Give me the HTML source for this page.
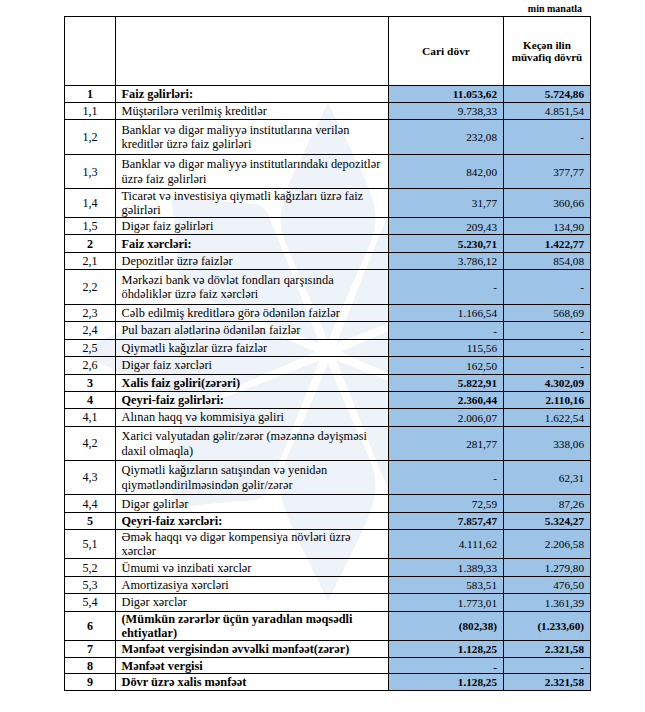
<!DOCTYPE html>
<html><head><meta charset="utf-8"><title>t</title>
<style>
html,body{margin:0;padding:0;background:#fff;}
body{width:645px;height:712px;position:relative;overflow:hidden;font-family:"Liberation Serif",serif;color:#000;}
.a{position:absolute;}
.h{position:absolute;left:64px;width:527px;height:1px;background:#000;}
.v{position:absolute;top:16px;width:1px;height:675px;background:#000;}
.bl{position:absolute;background:#9dc3e6;}
.c{position:absolute;display:flex;align-items:center;box-sizing:border-box;white-space:nowrap;}
.n{justify-content:center;font-size:12.1px;}
.t{justify-content:flex-start;font-size:12.35px;line-height:14.5px;padding-left:5.5px;}
.m{justify-content:flex-end;font-size:11.2px;padding-right:6px;}
.b{font-weight:bold;}
.hd{justify-content:center;text-align:center;font-weight:bold;font-size:11.4px;line-height:12.4px;}
</style></head><body>
<svg class="a" style="left:0;top:0" width="645" height="712" viewBox="0 0 645 712"><g transform="translate(328 352) scale(1 0.995)" fill="#eef2f9"><path d="M0.0,-0.0 2.3,-6.2 4.6,-12.5 6.9,-18.8 9.3,-25.0 11.6,-31.2 14.0,-37.5 16.5,-43.8 18.9,-50.0 21.4,-56.2 23.9,-62.5 26.5,-68.8 29.0,-75.0 31.5,-81.2 34.0,-87.5 36.6,-93.8 39.0,-100.0 41.5,-106.2 43.7,-112.5 45.5,-118.8 46.8,-125.0 47.5,-131.2 47.3,-137.5 46.7,-143.8 45.5,-150.0 43.6,-156.2 41.5,-162.5 39.0,-168.8 36.4,-175.0 33.5,-181.2 30.6,-187.5 27.5,-193.8 24.5,-200.0 21.5,-206.2 18.4,-212.5 15.4,-218.8 12.3,-225.0 9.2,-231.2 6.1,-237.5 3.1,-243.8 -0.0,-250.0 -3.1,-243.8 -6.1,-237.5 -9.2,-231.2 -12.3,-225.0 -15.4,-218.8 -18.4,-212.5 -21.5,-206.2 -24.5,-200.0 -27.5,-193.8 -30.6,-187.5 -33.5,-181.2 -36.4,-175.0 -39.0,-168.8 -41.5,-162.5 -43.6,-156.2 -45.5,-150.0 -46.7,-143.8 -47.3,-137.5 -47.5,-131.2 -46.8,-125.0 -45.5,-118.8 -43.7,-112.5 -41.5,-106.2 -39.0,-100.0 -36.6,-93.8 -34.0,-87.5 -31.5,-81.2 -29.0,-75.0 -26.5,-68.8 -23.9,-62.5 -21.4,-56.2 -18.9,-50.0 -16.5,-43.8 -14.0,-37.5 -11.6,-31.2 -9.3,-25.0 -6.9,-18.8 -4.6,-12.5 -2.3,-6.2Z" transform="rotate(0)"/><path d="M0.0,-0.0 2.2,-5.5 4.3,-11.1 6.5,-16.6 8.6,-22.2 10.8,-27.8 12.9,-33.3 15.1,-38.9 17.2,-44.4 19.4,-49.9 21.5,-55.5 23.7,-61.0 25.8,-66.6 28.0,-72.1 30.1,-77.7 32.3,-83.2 34.4,-88.8 36.5,-94.3 38.7,-99.9 40.9,-105.5 43.1,-111.0 45.4,-116.5 47.8,-122.1 50.1,-127.6 52.3,-133.2 54.7,-138.8 56.5,-144.3 56.2,-149.8 54.5,-155.4 50.3,-160.9 45.6,-166.5 40.6,-172.0 35.8,-177.6 31.2,-183.2 26.7,-188.7 22.2,-194.2 17.7,-199.8 13.2,-205.3 8.8,-210.9 4.4,-216.4 -0.0,-222.0 -4.4,-216.4 -8.8,-210.9 -13.2,-205.3 -17.7,-199.8 -22.2,-194.2 -26.7,-188.7 -31.2,-183.2 -35.8,-177.6 -40.6,-172.0 -45.6,-166.5 -50.3,-160.9 -54.5,-155.4 -56.2,-149.8 -56.5,-144.3 -54.7,-138.8 -52.3,-133.2 -50.1,-127.6 -47.8,-122.1 -45.4,-116.5 -43.1,-111.0 -40.9,-105.5 -38.7,-99.9 -36.5,-94.3 -34.4,-88.8 -32.3,-83.2 -30.1,-77.7 -28.0,-72.1 -25.8,-66.6 -23.7,-61.0 -21.5,-55.5 -19.4,-49.9 -17.2,-44.4 -15.1,-38.9 -12.9,-33.3 -10.8,-27.8 -8.6,-22.2 -6.5,-16.6 -4.3,-11.1 -2.2,-5.5Z" transform="rotate(45)"/><path d="M0.0,-0.0 2.3,-6.2 4.6,-12.5 6.9,-18.8 9.3,-25.0 11.6,-31.2 14.0,-37.5 16.5,-43.8 18.9,-50.0 21.4,-56.2 23.9,-62.5 26.5,-68.8 29.0,-75.0 31.5,-81.2 34.0,-87.5 36.6,-93.8 39.0,-100.0 41.5,-106.2 43.7,-112.5 45.5,-118.8 46.8,-125.0 47.5,-131.2 47.3,-137.5 46.7,-143.8 45.5,-150.0 43.6,-156.2 41.5,-162.5 39.0,-168.8 36.4,-175.0 33.5,-181.2 30.6,-187.5 27.5,-193.8 24.5,-200.0 21.5,-206.2 18.4,-212.5 15.4,-218.8 12.3,-225.0 9.2,-231.2 6.1,-237.5 3.1,-243.8 -0.0,-250.0 -3.1,-243.8 -6.1,-237.5 -9.2,-231.2 -12.3,-225.0 -15.4,-218.8 -18.4,-212.5 -21.5,-206.2 -24.5,-200.0 -27.5,-193.8 -30.6,-187.5 -33.5,-181.2 -36.4,-175.0 -39.0,-168.8 -41.5,-162.5 -43.6,-156.2 -45.5,-150.0 -46.7,-143.8 -47.3,-137.5 -47.5,-131.2 -46.8,-125.0 -45.5,-118.8 -43.7,-112.5 -41.5,-106.2 -39.0,-100.0 -36.6,-93.8 -34.0,-87.5 -31.5,-81.2 -29.0,-75.0 -26.5,-68.8 -23.9,-62.5 -21.4,-56.2 -18.9,-50.0 -16.5,-43.8 -14.0,-37.5 -11.6,-31.2 -9.3,-25.0 -6.9,-18.8 -4.6,-12.5 -2.3,-6.2Z" transform="rotate(90)"/><path d="M0.0,-0.0 2.2,-5.5 4.3,-11.1 6.5,-16.6 8.6,-22.2 10.8,-27.8 12.9,-33.3 15.1,-38.9 17.2,-44.4 19.4,-49.9 21.5,-55.5 23.7,-61.0 25.8,-66.6 28.0,-72.1 30.1,-77.7 32.3,-83.2 34.4,-88.8 36.5,-94.3 38.7,-99.9 40.9,-105.5 43.1,-111.0 45.4,-116.5 47.8,-122.1 50.1,-127.6 52.3,-133.2 54.7,-138.8 56.5,-144.3 56.2,-149.8 54.5,-155.4 50.3,-160.9 45.6,-166.5 40.6,-172.0 35.8,-177.6 31.2,-183.2 26.7,-188.7 22.2,-194.2 17.7,-199.8 13.2,-205.3 8.8,-210.9 4.4,-216.4 -0.0,-222.0 -4.4,-216.4 -8.8,-210.9 -13.2,-205.3 -17.7,-199.8 -22.2,-194.2 -26.7,-188.7 -31.2,-183.2 -35.8,-177.6 -40.6,-172.0 -45.6,-166.5 -50.3,-160.9 -54.5,-155.4 -56.2,-149.8 -56.5,-144.3 -54.7,-138.8 -52.3,-133.2 -50.1,-127.6 -47.8,-122.1 -45.4,-116.5 -43.1,-111.0 -40.9,-105.5 -38.7,-99.9 -36.5,-94.3 -34.4,-88.8 -32.3,-83.2 -30.1,-77.7 -28.0,-72.1 -25.8,-66.6 -23.7,-61.0 -21.5,-55.5 -19.4,-49.9 -17.2,-44.4 -15.1,-38.9 -12.9,-33.3 -10.8,-27.8 -8.6,-22.2 -6.5,-16.6 -4.3,-11.1 -2.2,-5.5Z" transform="rotate(135)"/><path d="M0.0,-0.0 2.3,-6.2 4.6,-12.5 6.9,-18.8 9.3,-25.0 11.6,-31.2 14.0,-37.5 16.5,-43.8 18.9,-50.0 21.4,-56.2 23.9,-62.5 26.5,-68.8 29.0,-75.0 31.5,-81.2 34.0,-87.5 36.6,-93.8 39.0,-100.0 41.5,-106.2 43.7,-112.5 45.5,-118.8 46.8,-125.0 47.5,-131.2 47.3,-137.5 46.7,-143.8 45.5,-150.0 43.6,-156.2 41.5,-162.5 39.0,-168.8 36.4,-175.0 33.5,-181.2 30.6,-187.5 27.5,-193.8 24.5,-200.0 21.5,-206.2 18.4,-212.5 15.4,-218.8 12.3,-225.0 9.2,-231.2 6.1,-237.5 3.1,-243.8 -0.0,-250.0 -3.1,-243.8 -6.1,-237.5 -9.2,-231.2 -12.3,-225.0 -15.4,-218.8 -18.4,-212.5 -21.5,-206.2 -24.5,-200.0 -27.5,-193.8 -30.6,-187.5 -33.5,-181.2 -36.4,-175.0 -39.0,-168.8 -41.5,-162.5 -43.6,-156.2 -45.5,-150.0 -46.7,-143.8 -47.3,-137.5 -47.5,-131.2 -46.8,-125.0 -45.5,-118.8 -43.7,-112.5 -41.5,-106.2 -39.0,-100.0 -36.6,-93.8 -34.0,-87.5 -31.5,-81.2 -29.0,-75.0 -26.5,-68.8 -23.9,-62.5 -21.4,-56.2 -18.9,-50.0 -16.5,-43.8 -14.0,-37.5 -11.6,-31.2 -9.3,-25.0 -6.9,-18.8 -4.6,-12.5 -2.3,-6.2Z" transform="rotate(180)"/><path d="M0.0,-0.0 2.2,-5.5 4.3,-11.1 6.5,-16.6 8.6,-22.2 10.8,-27.8 12.9,-33.3 15.1,-38.9 17.2,-44.4 19.4,-49.9 21.5,-55.5 23.7,-61.0 25.8,-66.6 28.0,-72.1 30.1,-77.7 32.3,-83.2 34.4,-88.8 36.5,-94.3 38.7,-99.9 40.9,-105.5 43.1,-111.0 45.4,-116.5 47.8,-122.1 50.1,-127.6 52.3,-133.2 54.7,-138.8 56.5,-144.3 56.2,-149.8 54.5,-155.4 50.3,-160.9 45.6,-166.5 40.6,-172.0 35.8,-177.6 31.2,-183.2 26.7,-188.7 22.2,-194.2 17.7,-199.8 13.2,-205.3 8.8,-210.9 4.4,-216.4 -0.0,-222.0 -4.4,-216.4 -8.8,-210.9 -13.2,-205.3 -17.7,-199.8 -22.2,-194.2 -26.7,-188.7 -31.2,-183.2 -35.8,-177.6 -40.6,-172.0 -45.6,-166.5 -50.3,-160.9 -54.5,-155.4 -56.2,-149.8 -56.5,-144.3 -54.7,-138.8 -52.3,-133.2 -50.1,-127.6 -47.8,-122.1 -45.4,-116.5 -43.1,-111.0 -40.9,-105.5 -38.7,-99.9 -36.5,-94.3 -34.4,-88.8 -32.3,-83.2 -30.1,-77.7 -28.0,-72.1 -25.8,-66.6 -23.7,-61.0 -21.5,-55.5 -19.4,-49.9 -17.2,-44.4 -15.1,-38.9 -12.9,-33.3 -10.8,-27.8 -8.6,-22.2 -6.5,-16.6 -4.3,-11.1 -2.2,-5.5Z" transform="rotate(225)"/><path d="M0.0,-0.0 2.3,-6.2 4.6,-12.5 6.9,-18.8 9.3,-25.0 11.6,-31.2 14.0,-37.5 16.5,-43.8 18.9,-50.0 21.4,-56.2 23.9,-62.5 26.5,-68.8 29.0,-75.0 31.5,-81.2 34.0,-87.5 36.6,-93.8 39.0,-100.0 41.5,-106.2 43.7,-112.5 45.5,-118.8 46.8,-125.0 47.5,-131.2 47.3,-137.5 46.7,-143.8 45.5,-150.0 43.6,-156.2 41.5,-162.5 39.0,-168.8 36.4,-175.0 33.5,-181.2 30.6,-187.5 27.5,-193.8 24.5,-200.0 21.5,-206.2 18.4,-212.5 15.4,-218.8 12.3,-225.0 9.2,-231.2 6.1,-237.5 3.1,-243.8 -0.0,-250.0 -3.1,-243.8 -6.1,-237.5 -9.2,-231.2 -12.3,-225.0 -15.4,-218.8 -18.4,-212.5 -21.5,-206.2 -24.5,-200.0 -27.5,-193.8 -30.6,-187.5 -33.5,-181.2 -36.4,-175.0 -39.0,-168.8 -41.5,-162.5 -43.6,-156.2 -45.5,-150.0 -46.7,-143.8 -47.3,-137.5 -47.5,-131.2 -46.8,-125.0 -45.5,-118.8 -43.7,-112.5 -41.5,-106.2 -39.0,-100.0 -36.6,-93.8 -34.0,-87.5 -31.5,-81.2 -29.0,-75.0 -26.5,-68.8 -23.9,-62.5 -21.4,-56.2 -18.9,-50.0 -16.5,-43.8 -14.0,-37.5 -11.6,-31.2 -9.3,-25.0 -6.9,-18.8 -4.6,-12.5 -2.3,-6.2Z" transform="rotate(270)"/><path d="M0.0,-0.0 2.2,-5.5 4.3,-11.1 6.5,-16.6 8.6,-22.2 10.8,-27.8 12.9,-33.3 15.1,-38.9 17.2,-44.4 19.4,-49.9 21.5,-55.5 23.7,-61.0 25.8,-66.6 28.0,-72.1 30.1,-77.7 32.3,-83.2 34.4,-88.8 36.5,-94.3 38.7,-99.9 40.9,-105.5 43.1,-111.0 45.4,-116.5 47.8,-122.1 50.1,-127.6 52.3,-133.2 54.7,-138.8 56.5,-144.3 56.2,-149.8 54.5,-155.4 50.3,-160.9 45.6,-166.5 40.6,-172.0 35.8,-177.6 31.2,-183.2 26.7,-188.7 22.2,-194.2 17.7,-199.8 13.2,-205.3 8.8,-210.9 4.4,-216.4 -0.0,-222.0 -4.4,-216.4 -8.8,-210.9 -13.2,-205.3 -17.7,-199.8 -22.2,-194.2 -26.7,-188.7 -31.2,-183.2 -35.8,-177.6 -40.6,-172.0 -45.6,-166.5 -50.3,-160.9 -54.5,-155.4 -56.2,-149.8 -56.5,-144.3 -54.7,-138.8 -52.3,-133.2 -50.1,-127.6 -47.8,-122.1 -45.4,-116.5 -43.1,-111.0 -40.9,-105.5 -38.7,-99.9 -36.5,-94.3 -34.4,-88.8 -32.3,-83.2 -30.1,-77.7 -28.0,-72.1 -25.8,-66.6 -23.7,-61.0 -21.5,-55.5 -19.4,-49.9 -17.2,-44.4 -15.1,-38.9 -12.9,-33.3 -10.8,-27.8 -8.6,-22.2 -6.5,-16.6 -4.3,-11.1 -2.2,-5.5Z" transform="rotate(315)"/><g fill="#fff"><path d="M-4.8,0 L-2,-152 L2,-152 L4.8,0Z" transform="rotate(-22.5)"/><path d="M-4.8,0 L-2,-152 L2,-152 L4.8,0Z" transform="rotate(22.5)"/><path d="M-4.8,0 L-2,-152 L2,-152 L4.8,0Z" transform="rotate(67.5)"/><path d="M-4.8,0 L-2,-152 L2,-152 L4.8,0Z" transform="rotate(112.5)"/><path d="M-4.8,0 L-2,-152 L2,-152 L4.8,0Z" transform="rotate(157.5)"/><path d="M-4.8,0 L-2,-152 L2,-152 L4.8,0Z" transform="rotate(202.5)"/><path d="M-4.8,0 L-2,-152 L2,-152 L4.8,0Z" transform="rotate(247.5)"/><path d="M-4.8,0 L-2,-152 L2,-152 L4.8,0Z" transform="rotate(292.5)"/><circle r="12"/></g></g></svg>

<div class="bl" style="left:389px;top:86px;width:201px;height:604px"></div>
<div class="a b" style="right:63px;top:3px;font-size:10px;line-height:12px;">min manatla</div>
<div class="c hd" style="left:389px;top:17px;width:114px;height:68px;">Cari dövr</div>
<div class="c hd" style="left:504px;top:17px;width:86px;height:68px;font-size:11.1px;">Keçən ilin<br>müvafiq dövrü</div>
<div class="c n b" style="left:65px;top:86px;width:50px;height:16px;">1</div>
<div class="c t b" style="left:116px;top:86px;width:272px;height:16px;"><span>Faiz gəlirləri:</span></div>
<div class="c m b" style="left:389px;top:86px;width:114px;height:16px;">11.053,62</div>
<div class="c m b" style="left:504px;top:86px;width:86px;height:16px;">5.724,86</div>
<div class="c n" style="left:65px;top:103px;width:50px;height:16px;">1,1</div>
<div class="c t" style="left:116px;top:103px;width:272px;height:16px;"><span>Müştərilərə verilmiş kreditlər</span></div>
<div class="c m" style="left:389px;top:103px;width:114px;height:16px;">9.738,33</div>
<div class="c m" style="left:504px;top:103px;width:86px;height:16px;">4.851,54</div>
<div class="c n" style="left:65px;top:120px;width:50px;height:34px;">1,2</div>
<div class="c t" style="left:116px;top:120px;width:272px;height:34px;"><span>Banklar və digər maliyyə institutlarına verilən<br>kreditlər üzrə faiz gəlirləri</span></div>
<div class="c m" style="left:389px;top:120px;width:114px;height:34px;">232,08</div>
<div class="c m" style="left:504px;top:120px;width:86px;height:34px;">-</div>
<div class="c n" style="left:65px;top:156px;width:50px;height:33px;">1,3</div>
<div class="c t" style="left:116px;top:155px;width:272px;height:33px;"><span>Banklar və digər maliyyə institutlarındakı depozitlər<br>üzrə faiz gəlirləri</span></div>
<div class="c m" style="left:389px;top:155px;width:114px;height:33px;">842,00</div>
<div class="c m" style="left:504px;top:155px;width:86px;height:33px;">377,77</div>
<div class="c n" style="left:65px;top:189px;width:50px;height:28px;">1,4</div>
<div class="c t" style="left:116px;top:189px;width:272px;height:28px;"><span>Ticarət və investisiya qiymətli kağızları üzrə faiz<br>gəlirləri</span></div>
<div class="c m" style="left:389px;top:189px;width:114px;height:28px;">31,77</div>
<div class="c m" style="left:504px;top:189px;width:86px;height:28px;">360,66</div>
<div class="c n" style="left:65px;top:218px;width:50px;height:16px;">1,5</div>
<div class="c t" style="left:116px;top:218px;width:272px;height:16px;"><span>Digər faiz gəlirləri</span></div>
<div class="c m" style="left:389px;top:219px;width:114px;height:16px;">209,43</div>
<div class="c m" style="left:504px;top:219px;width:86px;height:16px;">134,90</div>
<div class="c n b" style="left:65px;top:236px;width:50px;height:17px;">2</div>
<div class="c t b" style="left:116px;top:236px;width:272px;height:17px;"><span>Faiz xərcləri:</span></div>
<div class="c m b" style="left:389px;top:235px;width:114px;height:17px;">5.230,71</div>
<div class="c m b" style="left:504px;top:235px;width:86px;height:17px;">1.422,77</div>
<div class="c n" style="left:65px;top:253px;width:50px;height:16px;">2,1</div>
<div class="c t" style="left:116px;top:253px;width:272px;height:16px;"><span>Depozitlər üzrə faizlər</span></div>
<div class="c m" style="left:389px;top:253px;width:114px;height:16px;">3.786,12</div>
<div class="c m" style="left:504px;top:253px;width:86px;height:16px;">854,08</div>
<div class="c n" style="left:65px;top:270px;width:50px;height:34px;">2,2</div>
<div class="c t" style="left:116px;top:270px;width:272px;height:34px;"><span>Mərkəzi bank və dövlət fondları qarşısında<br>öhdəliklər üzrə faiz xərcləri</span></div>
<div class="c m" style="left:389px;top:270px;width:114px;height:34px;">-</div>
<div class="c m" style="left:504px;top:270px;width:86px;height:34px;">-</div>
<div class="c n" style="left:65px;top:305px;width:50px;height:16px;">2,3</div>
<div class="c t" style="left:116px;top:305px;width:272px;height:16px;"><span>Cəlb edilmiş kreditlərə görə ödənilən faizlər</span></div>
<div class="c m" style="left:389px;top:305px;width:114px;height:16px;">1.166,54</div>
<div class="c m" style="left:504px;top:305px;width:86px;height:16px;">568,69</div>
<div class="c n" style="left:65px;top:322px;width:50px;height:17px;">2,4</div>
<div class="c t" style="left:116px;top:322px;width:272px;height:17px;"><span>Pul bazarı alətlərinə ödənilən faizlər</span></div>
<div class="c m" style="left:389px;top:322px;width:114px;height:17px;">-</div>
<div class="c m" style="left:504px;top:322px;width:86px;height:17px;">-</div>
<div class="c n" style="left:65px;top:340px;width:50px;height:16px;">2,5</div>
<div class="c t" style="left:116px;top:340px;width:272px;height:16px;"><span>Qiymətli kağızlar üzrə faizlər</span></div>
<div class="c m" style="left:389px;top:340px;width:114px;height:16px;">115,56</div>
<div class="c m" style="left:504px;top:340px;width:86px;height:16px;">-</div>
<div class="c n" style="left:65px;top:357px;width:50px;height:17px;">2,6</div>
<div class="c t" style="left:116px;top:357px;width:272px;height:17px;"><span>Digər faiz xərcləri</span></div>
<div class="c m" style="left:389px;top:357px;width:114px;height:17px;">162,50</div>
<div class="c m" style="left:504px;top:357px;width:86px;height:17px;">-</div>
<div class="c n b" style="left:65px;top:375px;width:50px;height:16px;">3</div>
<div class="c t b" style="left:116px;top:375px;width:272px;height:16px;"><span>Xalis faiz gəliri(zərəri)</span></div>
<div class="c m b" style="left:389px;top:375px;width:114px;height:16px;">5.822,91</div>
<div class="c m b" style="left:504px;top:375px;width:86px;height:16px;">4.302,09</div>
<div class="c n b" style="left:65px;top:392px;width:50px;height:16px;">4</div>
<div class="c t b" style="left:116px;top:392px;width:272px;height:16px;"><span>Qeyri-faiz gəlirləri:</span></div>
<div class="c m b" style="left:389px;top:392px;width:114px;height:16px;">2.360,44</div>
<div class="c m b" style="left:504px;top:392px;width:86px;height:16px;">2.110,16</div>
<div class="c n" style="left:65px;top:409px;width:50px;height:17px;">4,1</div>
<div class="c t" style="left:116px;top:409px;width:272px;height:17px;"><span>Alınan haqq və kommisiya gəliri</span></div>
<div class="c m" style="left:389px;top:409px;width:114px;height:17px;">2.006,07</div>
<div class="c m" style="left:504px;top:409px;width:86px;height:17px;">1.622,54</div>
<div class="c n" style="left:65px;top:427px;width:50px;height:33px;">4,2</div>
<div class="c t" style="left:116px;top:427px;width:272px;height:33px;"><span>Xarici valyutadan gəlir/zərər (məzənnə dəyişməsi<br>daxil olmaqla)</span></div>
<div class="c m" style="left:389px;top:427px;width:114px;height:33px;">281,77</div>
<div class="c m" style="left:504px;top:427px;width:86px;height:33px;">338,06</div>
<div class="c n" style="left:65px;top:461px;width:50px;height:33px;">4,3</div>
<div class="c t" style="left:116px;top:461px;width:272px;height:33px;"><span>Qiymətli kağızların satışından və yenidən<br>qiymətləndirilməsindən gəlir/zərər</span></div>
<div class="c m" style="left:389px;top:461px;width:114px;height:33px;">-</div>
<div class="c m" style="left:504px;top:461px;width:86px;height:33px;">62,31</div>
<div class="c n" style="left:65px;top:496px;width:50px;height:17px;">4,4</div>
<div class="c t" style="left:116px;top:496px;width:272px;height:17px;"><span>Digər gəlirlər</span></div>
<div class="c m" style="left:389px;top:495px;width:114px;height:17px;">72,59</div>
<div class="c m" style="left:504px;top:495px;width:86px;height:17px;">87,26</div>
<div class="c n b" style="left:65px;top:513px;width:50px;height:16px;">5</div>
<div class="c t b" style="left:116px;top:513px;width:272px;height:16px;"><span>Qeyri-faiz xərcləri:</span></div>
<div class="c m b" style="left:389px;top:513px;width:114px;height:16px;">7.857,47</div>
<div class="c m b" style="left:504px;top:513px;width:86px;height:16px;">5.324,27</div>
<div class="c n" style="left:65px;top:530px;width:50px;height:28px;">5,1</div>
<div class="c t" style="left:116px;top:530px;width:272px;height:28px;"><span>Əmək haqqı və digər kompensiya növləri üzrə<br>xərclər</span></div>
<div class="c m" style="left:389px;top:530px;width:114px;height:28px;">4.111,62</div>
<div class="c m" style="left:504px;top:530px;width:86px;height:28px;">2.206,58</div>
<div class="c n" style="left:65px;top:560px;width:50px;height:17px;">5,2</div>
<div class="c t" style="left:116px;top:560px;width:272px;height:17px;"><span>Ümumi və inzibati xərclər</span></div>
<div class="c m" style="left:389px;top:559px;width:114px;height:17px;">1.389,33</div>
<div class="c m" style="left:504px;top:559px;width:86px;height:17px;">1.279,80</div>
<div class="c n" style="left:65px;top:577px;width:50px;height:16px;">5,3</div>
<div class="c t" style="left:116px;top:577px;width:272px;height:16px;"><span>Amortizasiya xərcləri</span></div>
<div class="c m" style="left:389px;top:577px;width:114px;height:16px;">583,51</div>
<div class="c m" style="left:504px;top:577px;width:86px;height:16px;">476,50</div>
<div class="c n" style="left:65px;top:594px;width:50px;height:17px;">5,4</div>
<div class="c t" style="left:116px;top:594px;width:272px;height:17px;"><span>Digər xərclər</span></div>
<div class="c m" style="left:389px;top:594px;width:114px;height:17px;">1.773,01</div>
<div class="c m" style="left:504px;top:594px;width:86px;height:17px;">1.361,39</div>
<div class="c n b" style="left:65px;top:612px;width:50px;height:28px;">6</div>
<div class="c t b" style="left:116px;top:612px;width:272px;height:28px;"><span>(Mümkün zərərlər üçün yaradılan məqsədli<br>ehtiyatlar)</span></div>
<div class="c m b" style="left:389px;top:612px;width:114px;height:28px;">(802,38)</div>
<div class="c m b" style="left:504px;top:612px;width:86px;height:28px;">(1.233,60)</div>
<div class="c n b" style="left:65px;top:641px;width:50px;height:16px;">7</div>
<div class="c t b" style="left:116px;top:641px;width:272px;height:16px;"><span>Mənfəət vergisindən əvvəlki mənfəət(zərər)</span></div>
<div class="c m b" style="left:389px;top:641px;width:114px;height:16px;">1.128,25</div>
<div class="c m b" style="left:504px;top:641px;width:86px;height:16px;">2.321,58</div>
<div class="c n b" style="left:65px;top:659px;width:50px;height:15px;">8</div>
<div class="c t b" style="left:116px;top:659px;width:272px;height:15px;"><span>Mənfəət vergisi</span></div>
<div class="c m b" style="left:389px;top:659px;width:114px;height:15px;">-</div>
<div class="c m b" style="left:504px;top:659px;width:86px;height:15px;">-</div>
<div class="c n b" style="left:65px;top:674px;width:50px;height:16px;">9</div>
<div class="c t b" style="left:116px;top:674px;width:272px;height:16px;"><span>Dövr üzrə xalis mənfəət</span></div>
<div class="c m b" style="left:389px;top:674px;width:114px;height:16px;">1.128,25</div>
<div class="c m b" style="left:504px;top:674px;width:86px;height:16px;">2.321,58</div>
<div class="h" style="top:16px"></div>
<div class="h" style="top:85px"></div>
<div class="h" style="top:102px"></div>
<div class="h" style="top:119px"></div>
<div class="h" style="top:154px"></div>
<div class="h" style="top:188px"></div>
<div class="h" style="top:217px"></div>
<div class="h" style="top:234px"></div>
<div class="h" style="top:252px"></div>
<div class="h" style="top:269px"></div>
<div class="h" style="top:304px"></div>
<div class="h" style="top:321px"></div>
<div class="h" style="top:339px"></div>
<div class="h" style="top:356px"></div>
<div class="h" style="top:374px"></div>
<div class="h" style="top:391px"></div>
<div class="h" style="top:408px"></div>
<div class="h" style="top:426px"></div>
<div class="h" style="top:460px"></div>
<div class="h" style="top:494px"></div>
<div class="h" style="top:512px"></div>
<div class="h" style="top:529px"></div>
<div class="h" style="top:558px"></div>
<div class="h" style="top:576px"></div>
<div class="h" style="top:593px"></div>
<div class="h" style="top:611px"></div>
<div class="h" style="top:640px"></div>
<div class="h" style="top:657px"></div>
<div class="h" style="top:673px"></div>
<div class="h" style="top:690px"></div>
<div class="v" style="left:64px"></div>
<div class="v" style="left:115px"></div>
<div class="v" style="left:388px"></div>
<div class="v" style="left:503px"></div>
<div class="v" style="left:590px"></div>
</body></html>
